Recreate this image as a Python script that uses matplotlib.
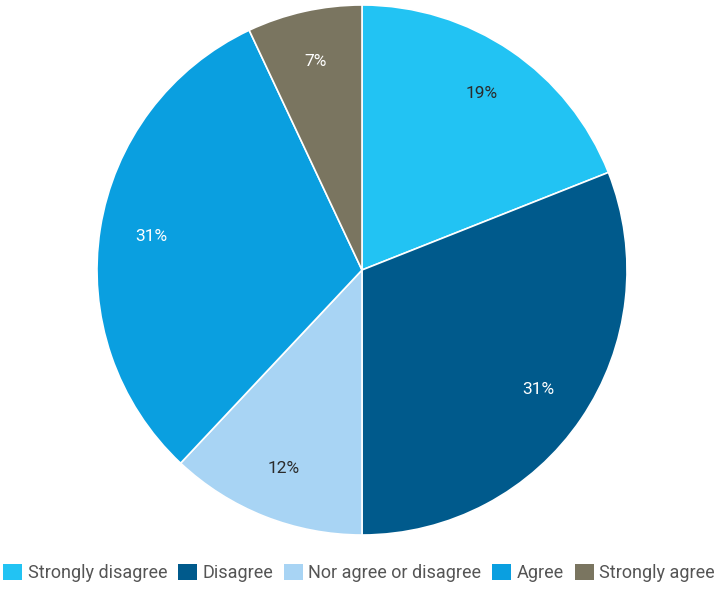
import matplotlib.pyplot as plt
from matplotlib.patches import Patch

plt.rcParams['font.family'] = ['Roboto', 'DejaVu Sans']

labels = ['Strongly disagree', 'Disagree', 'Nor agree or disagree', 'Agree', 'Strongly agree']
shares = [19, 31, 12, 31, 7]
colors = ['#22C3F3', '#005A8C', '#A8D4F4', '#0A9FE0', '#7A7560']
text_colors = ['#2b2b2b', 'white', '#2b2b2b', 'white', 'white']

fig = plt.figure(figsize=(7.18, 5.9), dpi=100)
ax = fig.add_axes([(362 - 265) / 718, (590 - 535) / 590, 530 / 718, 530 / 590])

wedges, texts, autotexts = ax.pie(
    shares, colors=colors, startangle=90, counterclock=False, radius=1,
    autopct='%d%%', pctdistance=0.805,
    wedgeprops=dict(edgecolor='white', linewidth=1.2),
    textprops=dict(fontsize=12.5),
)
for t, c in zip(autotexts, text_colors):
    t.set_color(c)

ax.set_xlim(-1, 1)
ax.set_ylim(-1, 1)
ax.set_aspect('equal')
ax.axis('off')

handles = [Patch(facecolor=c, edgecolor='none') for c in colors]
fig.legend(handles, labels, loc='center', bbox_to_anchor=(0.5, 1 - 573 / 590),
           ncol=5, frameon=False, fontsize=13, labelcolor='#555555',
           handlelength=1.05, handleheight=1.05, handletextpad=0.3, columnspacing=0.6)

fig.savefig('out.png', dpi=100)
